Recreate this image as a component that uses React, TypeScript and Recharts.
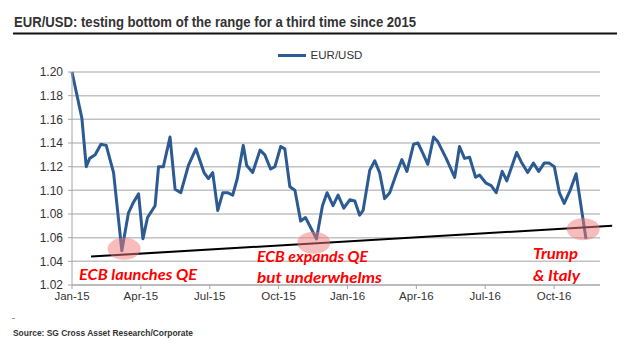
import React from 'react';
import { LineChart, Line, XAxis, YAxis, CartesianGrid, Legend, ReferenceLine, ReferenceDot } from 'recharts';

// x positions are months since Jan-15 (weekly closes)
const months = [
  0.0, 0.43, 0.62, 0.77, 1.01, 1.26, 1.49, 1.81, 2.17, 2.46, 2.68, 2.9, 3.09, 3.29, 3.62, 3.77,
  3.98, 4.27, 4.49, 4.74, 5.07, 5.4, 5.75, 5.94, 6.13, 6.35, 6.57, 6.77, 7.0, 7.2, 7.46, 7.61,
  7.87, 8.19, 8.4, 8.65, 8.84, 9.09, 9.27, 9.49, 9.71, 9.96, 10.17, 10.65, 10.91, 11.11, 11.37,
  11.59, 11.84, 12.1, 12.32, 12.53, 12.68, 12.97, 13.19, 13.4, 13.62, 13.84, 14.13, 14.37, 14.59,
  14.88, 15.07, 15.29, 15.5, 15.75, 15.94, 16.3, 16.67, 16.88, 17.1, 17.32, 17.58, 17.75, 18.04,
  18.26, 18.48, 18.74, 18.94, 19.37, 19.57, 19.85, 20.1, 20.33, 20.57, 20.79, 21.01, 21.23, 21.44,
  21.7, 21.96, 22.39,
];
const eurusd = [
  1.2, 1.161, 1.12, 1.127, 1.13, 1.139, 1.138, 1.115, 1.049, 1.081, 1.09, 1.097, 1.059, 1.077, 1.087, 1.12,
  1.12, 1.145, 1.101, 1.098, 1.121, 1.135, 1.115, 1.11, 1.115, 1.083, 1.098, 1.098, 1.096, 1.11, 1.138, 1.121,
  1.115, 1.134, 1.13, 1.118, 1.12, 1.137, 1.135, 1.103, 1.1, 1.074, 1.077, 1.059, 1.087, 1.098, 1.087,
  1.096, 1.085, 1.092, 1.091, 1.079, 1.083, 1.117, 1.125, 1.115, 1.093, 1.098, 1.114, 1.126, 1.116,
  1.139, 1.14, 1.131, 1.122, 1.145, 1.141, 1.127, 1.111, 1.137, 1.127, 1.128, 1.111, 1.113, 1.106,
  1.104, 1.098, 1.116, 1.108, 1.132, 1.124, 1.115, 1.123, 1.116, 1.123, 1.123, 1.12, 1.098, 1.089,
  1.1, 1.114, 1.059,
];

const xTicks = [0, 3, 6, 9, 12, 15, 18, 21];
const xLabels = ['Jan-15', 'Apr-15', 'Jul-15', 'Oct-15', 'Jan-16', 'Apr-16', 'Jul-16', 'Oct-16'];
const yTicks = [1.02, 1.04, 1.06, 1.08, 1.1, 1.12, 1.14, 1.16, 1.18, 1.2];

// support line drawn by the author
const trendFrom = { x: 0.83, y: 1.044 };
const trendTo = { x: 23.53, y: 1.07 };

// the three touches of the support line
const touchMonths = [2.27, 10.53, 22.27];
const touchValues = [1.0507, 1.0558, 1.0672];

const data = months.map((m, i) => ({ m, eurusd: eurusd[i] }));

const BLUE = '#2b5b92';
const FONT = '"Liberation Sans", Arial, sans-serif';
const NOTE_FONT = 'Lato, "Liberation Sans", sans-serif';

const Blob = (props: any) => (
  <ellipse cx={props.cx} cy={props.cy} rx={16.5} ry={11} fill="#f07a7a" fillOpacity={0.5} />
);

const LegendContent = () => (
  <div style={{ display: 'flex', justifyContent: 'center', alignItems: 'center', height: 16 }}>
    <span style={{ display: 'inline-block', width: 28, height: 3, background: BLUE, marginRight: 5 }} />
    <span style={{ fontFamily: FONT, fontSize: 11.5, color: '#333' }}>EUR/USD</span>
  </div>
);

const Note = ({ x, y, w, children }: { x: number; y: number; w: number; children: string }) => (
  <text
    x={x}
    y={y}
    textLength={w}
    lengthAdjust="spacingAndGlyphs"
    fill="#ff0000"
    fontFamily={NOTE_FONT}
    fontStyle="italic"
    fontWeight="bold"
    fontSize={16}
  >
    {children}
  </text>
);

export default function App() {
  return (
    <div style={{ position: 'absolute', left: 0, top: 0, width: 640, height: 363, background: '#fff' }}>
      <svg width={640} height={40} style={{ position: 'absolute', left: 0, top: 0 }}>
        <text x={14} y={26.5} textLength={402} lengthAdjust="spacingAndGlyphs" fontFamily={FONT} fontWeight="bold" fontSize={14} fill="#333">
          EUR/USD: testing bottom of the range for a third time since 2015
        </text>
        <rect x={13} y={32.5} width={604} height={2} fill="#111" />
      </svg>

      <LineChart width={640} height={363} data={data} margin={{ top: 72, right: 40, bottom: 48, left: 0 }}>
        <CartesianGrid horizontal vertical={false} stroke="#c2c2c2" strokeWidth={1.5} />
        <XAxis
          type="number"
          dataKey="m"
          domain={[0, 23]}
          ticks={xTicks}
          tickFormatter={(v: number) => xLabels[xTicks.indexOf(v)]}
          height={30}
          tickSize={4}
          tickMargin={3}
          stroke="#a6a6a6"
          tick={{ fill: '#333', fontSize: 11.5, fontFamily: FONT }}
        />
        <YAxis
          domain={[1.02, 1.2]}
          ticks={yTicks}
          tickFormatter={(v: number) => v.toFixed(2)}
          width={72}
          tickSize={4}
          tickMargin={5}
          stroke="#a6a6a6"
          tick={{ fill: '#333', fontSize: 12, fontFamily: FONT }}
        />
        <Legend verticalAlign="middle" align="center" wrapperStyle={{ top: 47, left: 0, width: 640 }} content={LegendContent} />
        <Line
          type="linear"
          dataKey="eurusd"
          name="EUR/USD"
          stroke={BLUE}
          strokeWidth={3}
          strokeLinejoin="round"
          dot={false}
          isAnimationActive={false}
        />
        <ReferenceLine segment={[trendFrom, trendTo]} stroke="#000" strokeWidth={2} ifOverflow="visible" />
        {touchMonths.map((m, i) => (
          <ReferenceDot key={m} x={m} y={touchValues[i]} r={16} shape={Blob} ifOverflow="visible" />
        ))}
      </LineChart>

      <svg width={640} height={363} style={{ position: 'absolute', left: 0, top: 0, pointerEvents: 'none' }}>
        <Note x={79} y={280} w={118}>ECB launches QE</Note>
        <Note x={257} y={262} w={111}>ECB expands QE</Note>
        <Note x={257} y={283} w={125}>but underwhelms</Note>
        <Note x={533} y={259} w={45}>Trump</Note>
        <Note x={533} y={281} w={47}>&amp; Italy</Note>
        <rect x={12} y={318} width={3} height={1} fill="#999" />
        <text x={13} y={336} textLength={180} lengthAdjust="spacingAndGlyphs" fontFamily={FONT} fontWeight="bold" fontSize={8.5} fill="#333">
          Source: SG Cross Asset Research/Corporate
        </text>
      </svg>
    </div>
  );
}
